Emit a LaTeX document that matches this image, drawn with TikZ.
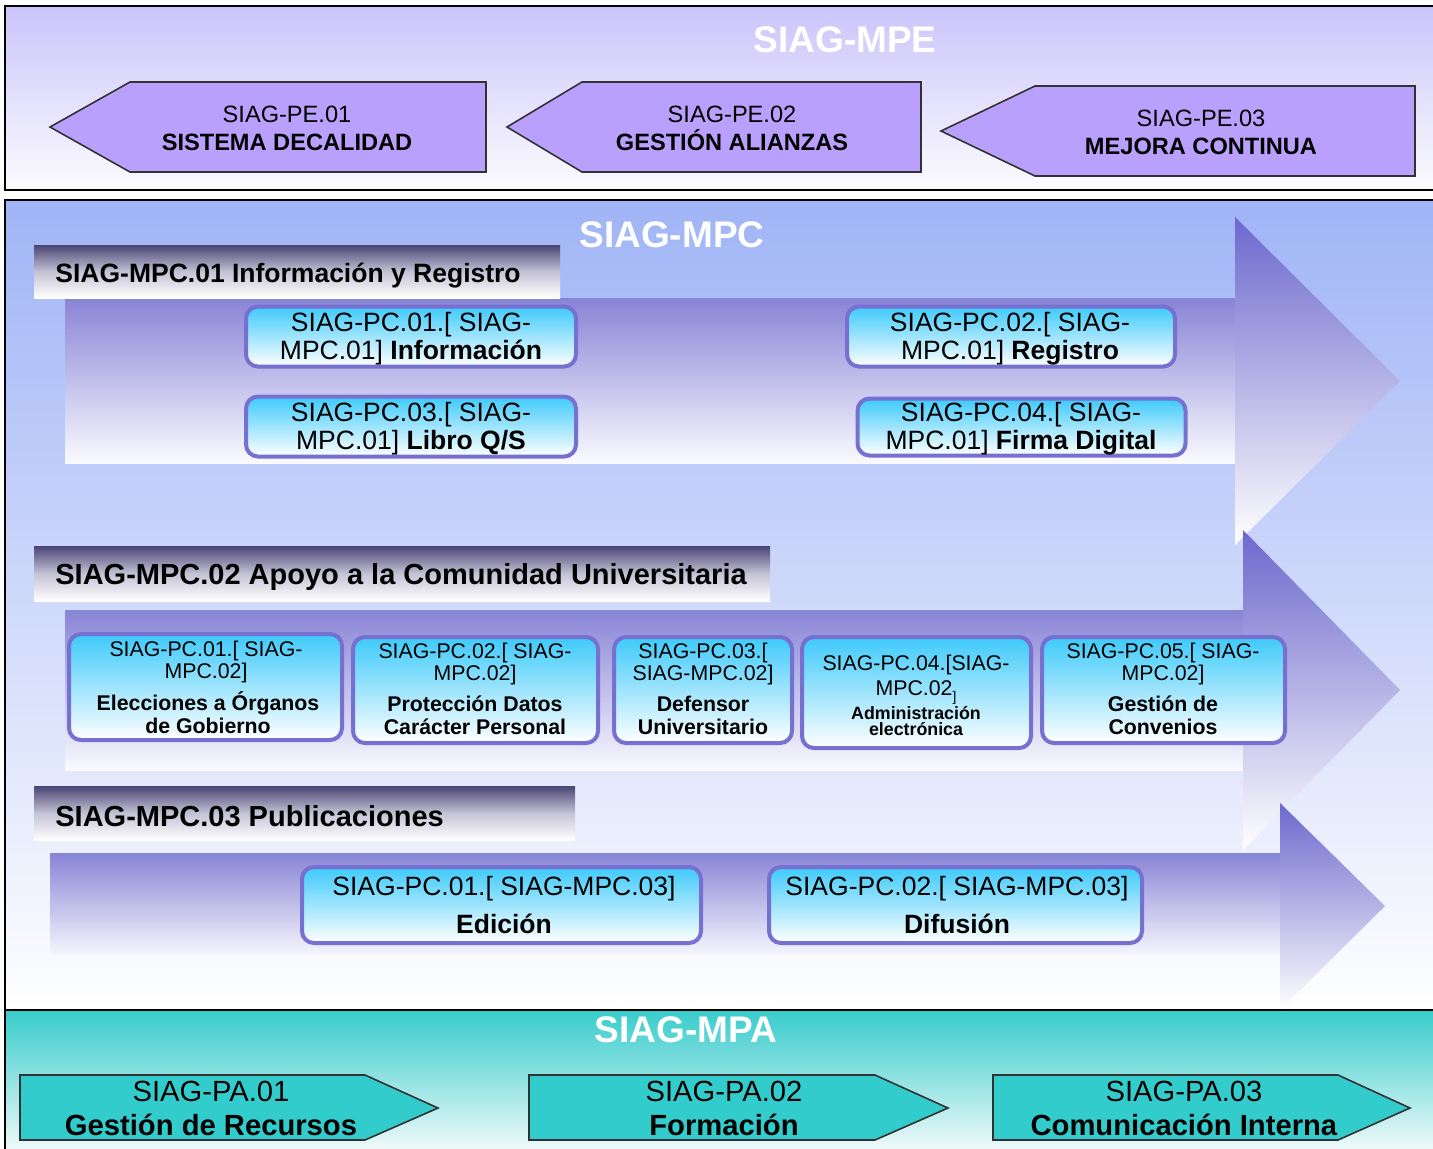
\documentclass[tikz,border=0pt]{standalone}
\usepackage{fontspec}
\setmainfont{Liberation Sans}
\definecolor{mpetop}{RGB}{203,196,250}
\definecolor{mpebot}{RGB}{252,252,255}
\definecolor{pefill}{RGB}{186,160,253}
\definecolor{mpctop}{RGB}{160,180,246}
\definecolor{shafttop}{RGB}{136,132,214}
\definecolor{headtop}{RGB}{108,104,205}
\definecolor{arrowbot}{RGB}{250,250,255}
\definecolor{labtop}{RGB}{74,68,116}
\definecolor{labmid}{RGB}{196,194,212}
\definecolor{pctop}{RGB}{62,202,250}
\definecolor{pcborder}{RGB}{118,112,208}
\definecolor{mpatop}{RGB}{56,204,204}
\definecolor{mpabot}{RGB}{242,250,250}
\definecolor{pafill}{RGB}{51,204,204}
\definecolor{edgegray}{RGB}{50,50,50}
\begin{document}
\begin{tikzpicture}[x=0.5pt,y=-0.5pt,
  frame/.style={draw=black,line width=1pt},
  pe/.style={draw=edgegray,line width=0.8pt,fill=pefill},
  pa/.style={draw=edgegray,line width=0.8pt,fill=pafill},
  title/.style={text=white,font=\fontsize{18.5pt}{20pt}\selectfont\bfseries,inner sep=0pt},
  petext/.style={align=center,inner sep=0pt,font=\fontsize{11.8pt}{14pt}\selectfont},
  patext/.style={align=center,inner sep=0pt,font=\fontsize{14.6pt}{17pt}\selectfont},
  heading/.style={anchor=west,inner sep=0pt,font=\fontsize{13.25pt}{15pt}\selectfont\bfseries},
  headingb/.style={anchor=west,inner sep=0pt,font=\fontsize{14.5pt}{16pt}\selectfont\bfseries},
  pcbox/.style={draw=pcborder,line width=2pt,rounded corners=6pt,top color=pctop,bottom color=white,inner sep=0pt},
  pcbig/.style={align=center,inner sep=0pt,font=\fontsize{13.25pt}{14pt}\selectfont},
  pcsmall/.style={align=center,inner sep=0pt,font=\fontsize{10.65pt}{11pt}\selectfont},
  pcsmallb/.style={align=center,inner sep=0pt,font=\fontsize{10.65pt}{11.5pt}\selectfont\bfseries},
  pctiny/.style={align=center,inner sep=0pt,font=\fontsize{8.9pt}{8pt}\selectfont\bfseries}
]
\useasboundingbox (0,0) rectangle (1433,1148);
\begin{scope}
\clip (0,0) rectangle (1433,1148);
% backgrounds
\shade[top color=mpetop,bottom color=mpebot] (5,6) rectangle (1440,190);
\shade[top color=mpctop,bottom color=white] (5,200) rectangle (1440,1010);
\shade[top color=mpatop,bottom color=mpabot] (5,1010) rectangle (1440,1152);
% big arrows
\shade[top color=shafttop,bottom color=arrowbot] (65,298) rectangle (1236,463);
\shade[top color=headtop,bottom color=white] (1235,217) -- (1400,381) -- (1235,545) -- cycle;
\shade[top color=shafttop,bottom color=arrowbot] (65,610) rectangle (1244,770);
\shade[top color=headtop,bottom color=white] (1243,530) -- (1400,690) -- (1243,850) -- cycle;
\shade[top color=shafttop,bottom color=arrowbot] (50,853) rectangle (1281,958);
\shade[top color=headtop,bottom color=white] (1280,803) -- (1385,906) -- (1280,1010) -- cycle;
% heading labels
\shade[top color=labtop,bottom color=white,middle color=labmid] (34,245) rectangle (560,298);
\shade[top color=labtop,bottom color=white,middle color=labmid] (34,546) rectangle (770,601);
\shade[top color=labtop,bottom color=white,middle color=labmid] (34,786) rectangle (575,840);
% frames
\draw[frame] (5,6) rectangle (1440,190);
\draw[frame] (5,200) rectangle (1440,1010);
\draw[frame] (5,1010) rectangle (1440,1152);
\end{scope}
% titles
\node[title] (tmpe) at (845,40) {SIAG-MPE};
\node[title] (tmpc) at (672,235) {SIAG-MPC};
\node[title] (tmpa) at (686,1030) {SIAG-MPA};
% PE pentagons
\draw[pe] (130,82) -- (486,82) -- (486,172) -- (130,172) -- (50,127) -- cycle;
\draw[pe] (582,82) -- (921,82) -- (921,172) -- (582,172) -- (507,127) -- cycle;
\draw[pe] (1035,86) -- (1415,86) -- (1415,176) -- (1035,176) -- (941,131) -- cycle;
\node[petext] (pe1) at (287,128) {SIAG-PE.01\\\textbf{SISTEMA DECALIDAD}};
\node[petext] (pe2) at (732,128) {SIAG-PE.02\\\textbf{GESTIÓN ALIANZAS}};
\node[petext] (pe3) at (1201,132) {SIAG-PE.03\\\textbf{MEJORA CONTINUA}};
% headings
\node[heading] (h1) at (55,276) {SIAG-MPC.01 Información y Registro};
\node[headingb] (h2) at (55,577) {SIAG-MPC.02 Apoyo a la Comunidad Universitaria};
\node[headingb] (h3) at (55,816) {SIAG-MPC.03 Publicaciones};
% MPC.01 boxes
\node[pcbox,minimum width=165pt,minimum height=30pt] (c1) at (411,336.5) {};
\node[pcbox,minimum width=164pt,minimum height=30pt] (c2) at (1011,336.5) {};
\node[pcbox,minimum width=165pt,minimum height=30pt] (c3) at (411,426.5) {};
\node[pcbox,minimum width=164pt,minimum height=28.5pt] (c4) at (1021.5,427) {};
\node[pcbig] (c1t) at (411,339) {SIAG-PC.01.[ SIAG-\\MPC.01] \textbf{Información}};
\node[pcbig] (c2t) at (1010,339) {SIAG-PC.02.[ SIAG-\\MPC.01] \textbf{Registro}};
\node[pcbig] (c3t) at (411,429) {SIAG-PC.03.[ SIAG-\\MPC.01] \textbf{Libro Q/S}};
\node[pcbig] (c4t) at (1021,429) {SIAG-PC.04.[ SIAG-\\MPC.01] \textbf{Firma Digital}};
% MPC.02 boxes
\node[pcbox,minimum width=136.5pt,minimum height=53pt] (b1) at (205.5,687) {};
\node[pcbox,minimum width=122.5pt,minimum height=53pt] (b2) at (475.5,690) {};
\node[pcbox,minimum width=89pt,minimum height=53pt] (b3) at (703,690) {};
\node[pcbox,minimum width=114.5pt,minimum height=55.5pt] (b4) at (916.5,692.5) {};
\node[pcbox,minimum width=121.5pt,minimum height=53pt] (b5) at (1163.5,690) {};
\node[pcsmall] (b1r) at (206,662) {SIAG-PC.01.[ SIAG-\\MPC.02]};
\node[pcsmallb] (b1b) at (208,713) {Elecciones a Órganos\\de Gobierno};
\node[pcsmall] (b2r) at (475,664) {SIAG-PC.02.[ SIAG-\\MPC.02]};
\node[pcsmallb] (b2b) at (475,715) {Protección Datos\\Carácter Personal};
\node[pcsmall] (b3r) at (703,664) {SIAG-PC.03.[\\SIAG-MPC.02]};
\node[pcsmallb] (b3b) at (703,715) {Defensor\\Universitario};
\node[pcsmall,font=\fontsize{10.65pt}{12.5pt}\selectfont] (b4r) at (916,680) {SIAG-PC.04.[SIAG-\\MPC.02\raisebox{-3pt}{\fontsize{7pt}{7pt}\selectfont]}};
\node[pctiny] (b4b) at (916,721) {Administración\\electrónica};
\node[pcsmall] (b5r) at (1163,664) {SIAG-PC.05.[ SIAG-\\MPC.02]};
\node[pcsmallb] (b5b) at (1163,715) {Gestión de\\Convenios};
% MPC.03 boxes
\node[pcbox,minimum width=199.5pt,minimum height=38pt] (d1) at (501.5,905) {};
\node[pcbox,minimum width=186.5pt,minimum height=38pt] (d2) at (955.5,905) {};
\node[pcbig,font=\fontsize{13.25pt}{19pt}\selectfont] (d1t) at (504,905) {SIAG-PC.01.[ SIAG-MPC.03]\\\textbf{Edición}};
\node[pcbig,font=\fontsize{13.25pt}{19pt}\selectfont] (d2t) at (957,905) {SIAG-PC.02.[ SIAG-MPC.03]\\\textbf{Difusión}};
% PA pentagons
\draw[pa] (20,1075) -- (365,1075) -- (438,1108) -- (365,1140) -- (20,1140) -- cycle;
\draw[pa] (529,1075) -- (875,1075) -- (948,1108) -- (875,1140) -- (529,1140) -- cycle;
\draw[pa] (993,1075) -- (1338,1075) -- (1410,1108) -- (1338,1140) -- (993,1140) -- cycle;
\node[patext] (pa1) at (211,1108) {SIAG-PA.01\\\textbf{Gestión de Recursos}};
\node[patext] (pa2) at (724,1108) {SIAG-PA.02\\\textbf{Formación}};
\node[patext] (pa3) at (1184,1108) {SIAG-PA.03\\\textbf{Comunicación Interna}};
\end{tikzpicture}
\end{document}
